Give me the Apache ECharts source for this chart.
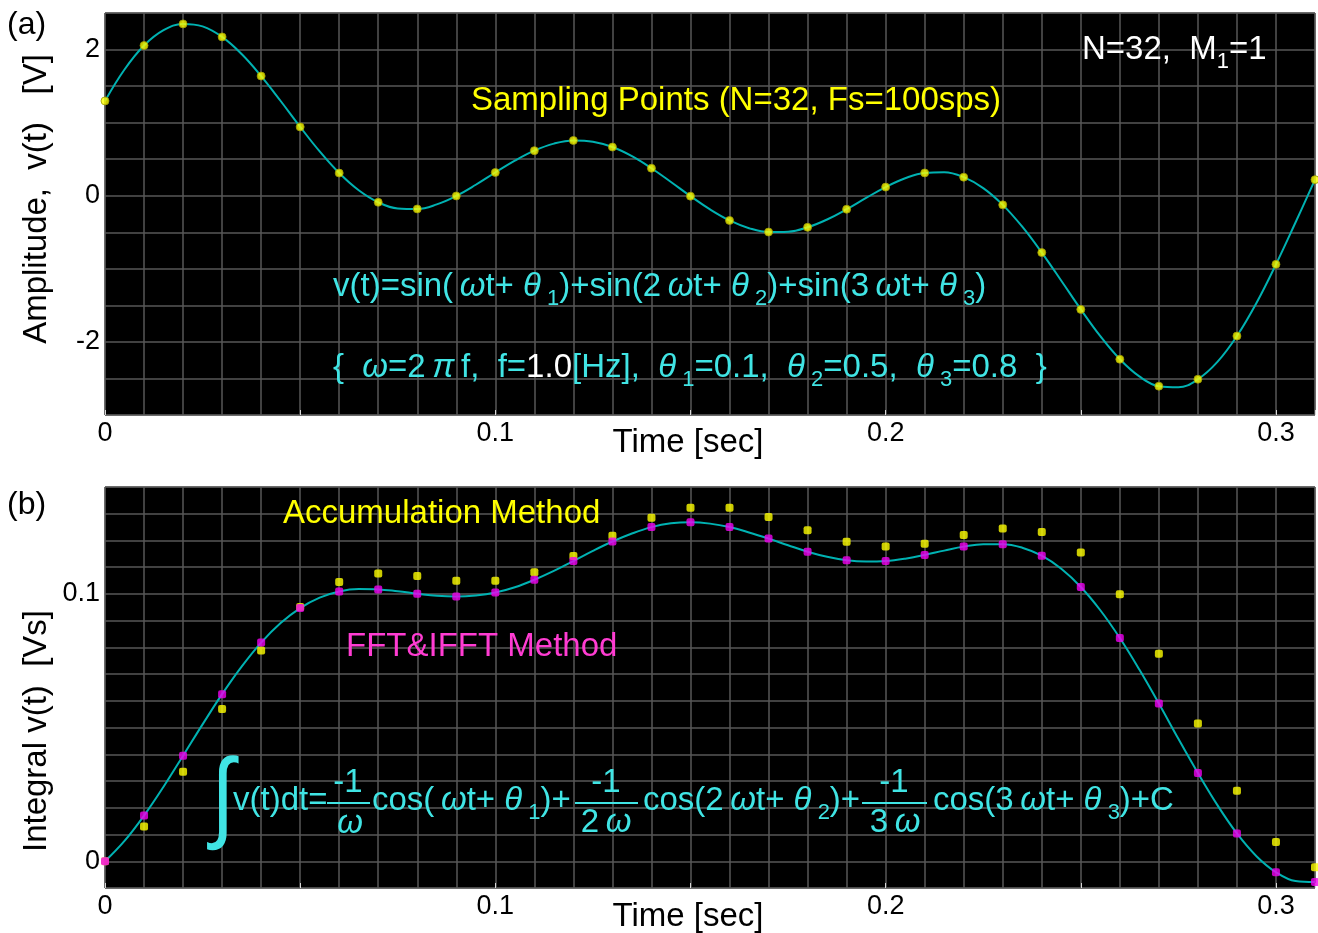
<!DOCTYPE html>
<html><head><meta charset="utf-8">
<script src="https://cdn.jsdelivr.net/npm/echarts@6/dist/echarts.min.js"></script>
<style>html,body{margin:0;padding:0;background:#fff}#c{width:1318px;height:933px}</style>
</head><body><div id="c"></div>
<script>
// ---- data ----
const tSamples = [0,0.01,0.02,0.03,0.04,0.05,0.06,0.07,0.08,0.09,0.1,0.11,0.12,0.13,0.14,0.15,0.16,0.17,0.18,0.19,0.2,0.21,0.22,0.23,0.24,0.25,0.26,0.27,0.28,0.29,0.3,0.31];
const vSamples = [1.297,2.055,2.351,2.173,1.637,0.942,0.310,-0.090,-0.181,-0.003,0.318,0.617,0.756,0.666,0.376,-0.006,-0.338,-0.497,-0.432,-0.185,0.118,0.312,0.254,-0.125,-0.778,-1.555,-2.237,-2.606,-2.511,-1.920,-0.939,0.220];
const tCurve = [0,0.005,0.01,0.015,0.02,0.025,0.03,0.035,0.04,0.045,0.05,0.055,0.06,0.065,0.07,0.075,0.08,0.085,0.09,0.095,0.1,0.105,0.11,0.115,0.12,0.125,0.13,0.135,0.14,0.145,0.15,0.155,0.16,0.165,0.17,0.175,0.18,0.185,0.19,0.195,0.2,0.205,0.21,0.215,0.22,0.225,0.23,0.235,0.24,0.245,0.25,0.255,0.26,0.265,0.27,0.275,0.28,0.285,0.29,0.295,0.3,0.305,0.31];
const vCurve = [1.297,1.727,2.055,2.264,2.351,2.317,2.173,1.939,1.637,1.296,0.942,0.606,0.310,0.074,-0.090,-0.174,-0.181,-0.119,-0.003,0.150,0.318,0.480,0.617,0.713,0.756,0.739,0.666,0.541,0.376,0.188,-0.006,-0.187,-0.338,-0.444,-0.497,-0.492,-0.432,-0.325,-0.185,-0.030,0.118,0.239,0.312,0.321,0.254,0.104,-0.125,-0.424,-0.778,-1.163,-1.555,-1.922,-2.237,-2.472,-2.606,-2.621,-2.511,-2.274,-1.920,-1.468,-0.939,-0.366,0.220];
const intCurve = [0,0.0076,0.0171,0.0279,0.0395,0.0512,0.0625,0.0728,0.0818,0.0891,0.0947,0.0986,0.1009,0.1018,0.1017,0.1010,0.1001,0.0993,0.0990,0.0994,0.1005,0.1025,0.1053,0.1086,0.1123,0.1161,0.1196,0.1226,0.1250,0.1264,0.1268,0.1263,0.1250,0.1230,0.1207,0.1182,0.1158,0.1139,0.1126,0.1121,0.1123,0.1132,0.1146,0.1162,0.1177,0.1186,0.1186,0.1173,0.1143,0.1094,0.1026,0.0939,0.0835,0.0717,0.0590,0.0458,0.0330,0.0210,0.0104,0.0019,-0.0041,-0.0074,-0.0078];
const accIntegral = [0,0.0130,0.0335,0.0570,0.0788,0.0951,0.1045,0.1076,0.1067,0.1049,0.1049,0.1081,0.1142,0.1218,0.1285,0.1322,0.1322,0.1288,0.1238,0.1195,0.1177,0.1188,0.1220,0.1245,0.1232,0.1155,0.0999,0.0776,0.0515,0.0264,0.0072,-0.0022];
const fftIntegral = [0,0.0171,0.0395,0.0625,0.0818,0.0947,0.1009,0.1017,0.1001,0.0990,0.1005,0.1053,0.1123,0.1196,0.1250,0.1268,0.1250,0.1207,0.1158,0.1126,0.1123,0.1146,0.1177,0.1186,0.1143,0.1026,0.0835,0.0590,0.0330,0.0104,-0.0041,-0.0078];
const xTickLabels = [0, 0.1, 0.2, 0.3];
const yTickLabelsA = [-2, 0, 2];
const yTickLabelsB = [0, 0.1];

// ---- styling ----
const F = "'Liberation Sans', Arial, sans-serif";
const CYAN = '#40E4E4', YEL = '#FFFF00', MAG = '#F000F0', PINK = '#FF3CD2', TEAL = '#00B2B2', GRID = '#575757';
const TS = '\u2009';
function st(fill, size, italic, pad) {
  const o = {fill: fill, color: fill, fontSize: size, fontFamily: F, fontStyle: italic ? 'italic' : 'normal', fontWeight: 'normal'};
  if (pad) o.padding = [pad, 0, 0, 0];
  return o;
}
const RICH = {c: st(CYAN, 33), g: st(CYAN, 33, true), s: st(CYAN, 22, false, 24), w: st('#ffffff', 33), ws: st('#ffffff', 22, false, 24)};
function txt(x, y, text, fill, size, opts) {
  opts = opts || {};
  const al = opts.align || 'left';
  return {type: 'text', x: x, y: y, z: 100, rotation: opts.rot || 0, scaleX: opts.scaleX || 1,
    style: {text: text, fill: fill, fontSize: size, fontFamily: F, fontStyle: opts.italic ? 'italic' : 'normal',
      align: al, textAlign: al, verticalAlign: 'middle', textVerticalAlign: 'middle', lineHeight: 40, rich: RICH}};
}
function bar(x1, x2, y) {
  return {type: 'line', z: 100, shape: {x1: x1, y1: y, x2: x2, y2: y}, style: {stroke: CYAN, lineWidth: 2}};
}
function inList(list, v) { return list.some(function (a) { return Math.abs(a - v) < 1e-9; }); }
function fmt(list) { return function (v) { const r = Math.round(v * 1000) / 1000; return inList(list, r) ? String(r) : ''; }; }

function xMain(gi) {
  return {gridIndex: gi, type: 'value', min: 0, max: 0.31, interval: 0.01,
    axisLine: {show: false}, axisTick: {show: false},
    splitLine: {show: true, lineStyle: {color: GRID, width: 1.5}},
    axisLabel: {formatter: fmt(xTickLabels), fontSize: 27, fontFamily: F, color: '#000', margin: 5}};
}
function xMinor(gi) {
  return {gridIndex: gi, type: 'value', min: 0, max: 0.31, interval: 0.05, position: 'bottom',
    axisLine: {show: false}, axisTick: {show: true, inside: true, length: 5, lineStyle: {color: '#d8d8d8', width: 1}},
    axisLabel: {show: false}, splitLine: {show: false}};
}
function yAx(gi, min, max, interval, labels) {
  return {gridIndex: gi, type: 'value', min: min, max: max, interval: interval,
    axisLine: {show: false}, axisTick: {show: false},
    splitLine: {show: true, lineStyle: {color: GRID, width: 1.5}},
    axisLabel: {formatter: fmt(labels), fontSize: 27, fontFamily: F, color: '#000', margin: 5}};
}
function pairs(xs, ys) { return xs.map(function (x, i) { return [x, ys[i]]; }); }

const chart = echarts.init(document.getElementById('c'), null, {renderer: 'canvas'});
chart.setOption({
  animation: false,
  backgroundColor: '#ffffff',
  grid: [
    {left: 105, top: 13, right: 0, height: 402, show: true, backgroundColor: '#000', borderColor: GRID, borderWidth: 1},
    {left: 105, top: 487, right: 0, height: 401, show: true, backgroundColor: '#000', borderColor: GRID, borderWidth: 1}
  ],
  xAxis: [xMain(0), xMain(1), xMinor(0), xMinor(1)],
  yAxis: [yAx(0, -3, 2.5, 0.5, yTickLabelsA), yAx(1, -0.01, 0.14, 0.01, yTickLabelsB)],
  series: [
    {type: 'line', xAxisIndex: 0, yAxisIndex: 0, data: pairs(tCurve, vCurve), showSymbol: false, smooth: 0.4,
      lineStyle: {color: TEAL, width: 2}, z: 2},
    {type: 'scatter', xAxisIndex: 0, yAxisIndex: 0, data: pairs(tSamples, vSamples), symbol: 'circle', symbolSize: 8,
      itemStyle: {color: YEL, borderColor: '#9a9a00', borderWidth: 1}, z: 3},
    {type: 'line', xAxisIndex: 1, yAxisIndex: 1, data: pairs(tCurve, intCurve), showSymbol: false, smooth: 0.4,
      lineStyle: {color: TEAL, width: 2}, z: 2},
    {type: 'scatter', xAxisIndex: 1, yAxisIndex: 1, data: pairs(tSamples, accIntegral), symbol: 'roundRect', symbolSize: 8,
      itemStyle: {color: YEL}, z: 3},
    {type: 'scatter', xAxisIndex: 1, yAxisIndex: 1, data: pairs(tSamples, fftIntegral), symbol: 'roundRect', symbolSize: 8,
      itemStyle: {color: MAG}, z: 4}
  ],
  graphic: {elements: [
    txt(7, 25, '(a)', '#000', 32),
    txt(7, 505, '(b)', '#000', 32),
    txt(37, 199, 'Amplitude,  v(t)   [V]', '#000', 33, {align: 'center', rot: Math.PI / 2}),
    txt(37, 731, 'Integral v(t)  [Vs]', '#000', 33, {align: 'center', rot: Math.PI / 2}),
    txt(688, 443, 'Time [sec]', '#000', 33, {align: 'center'}),
    txt(688, 917, 'Time [sec]', '#000', 33, {align: 'center'}),
    txt(1082, 50, '{w|N=32,  M}{ws|1}{w|=1}', '#fff', 33),
    txt(471, 101, 'Sampling Points (N=32, Fs=100sps)', YEL, 33),
    txt(333, 287, '{c|v(t)=sin(' + TS + '}{g|ω}{c|t+ }{g|θ}{s| 1}{c|)+sin(2' + TS + '}{g|ω}{c|t+ }{g|θ}{s| 2}{c|)+sin(3' + TS + '}{g|ω}{c|t+ }{g|θ}{s| 3}{c|)}', CYAN, 33),
    txt(333, 368, '{c|\u007B  }{g|ω}{c|=2' + TS + '}{g|π}{c|' + TS + 'f,  f=}{w|1.0}{c|[Hz],  }{g|θ}{s| 1}{c|=0.1,  }{g|θ}{s| 2}{c|=0.5,  }{g|θ}{s| 3}{c|=0.8  }\u007D', CYAN, 33),
    txt(283, 514, 'Accumulation Method', YEL, 33),
    txt(346, 647, 'FFT&IFFT Method', PINK, 33),
    // integral formula
    txt(223, 801, '∫', CYAN, 100, {align: 'center', scaleX: 0.85}),
    txt(233, 801, '{c|v(t)dt=}', CYAN, 33),
    txt(348, 783, '{c|-1}', CYAN, 33, {align: 'center'}),
    bar(327, 370, 803),
    txt(350, 824, '{g|ω}', CYAN, 33, {align: 'center'}),
    txt(372, 801, '{c|cos(' + TS + '}{g|ω}{c|t+ }{g|θ}{s| 1}{c|)+}', CYAN, 33),
    txt(606, 783, '{c|-1}', CYAN, 33, {align: 'center'}),
    bar(575, 638, 803),
    txt(606, 823, '{c|2' + TS + '}{g|ω}', CYAN, 33, {align: 'center'}),
    txt(643, 801, '{c|cos(2' + TS + '}{g|ω}{c|t+ }{g|θ}{s| 2}{c|)+}', CYAN, 33),
    txt(894, 783, '{c|-1}', CYAN, 33, {align: 'center'}),
    bar(862, 927, 803),
    txt(895, 823, '{c|3' + TS + '}{g|ω}', CYAN, 33, {align: 'center'}),
    txt(933, 801, '{c|cos(3' + TS + '}{g|ω}{c|t+ }{g|θ}{s| 3}{c|)+C}', CYAN, 33)
  ]}
});
</script></body></html>
